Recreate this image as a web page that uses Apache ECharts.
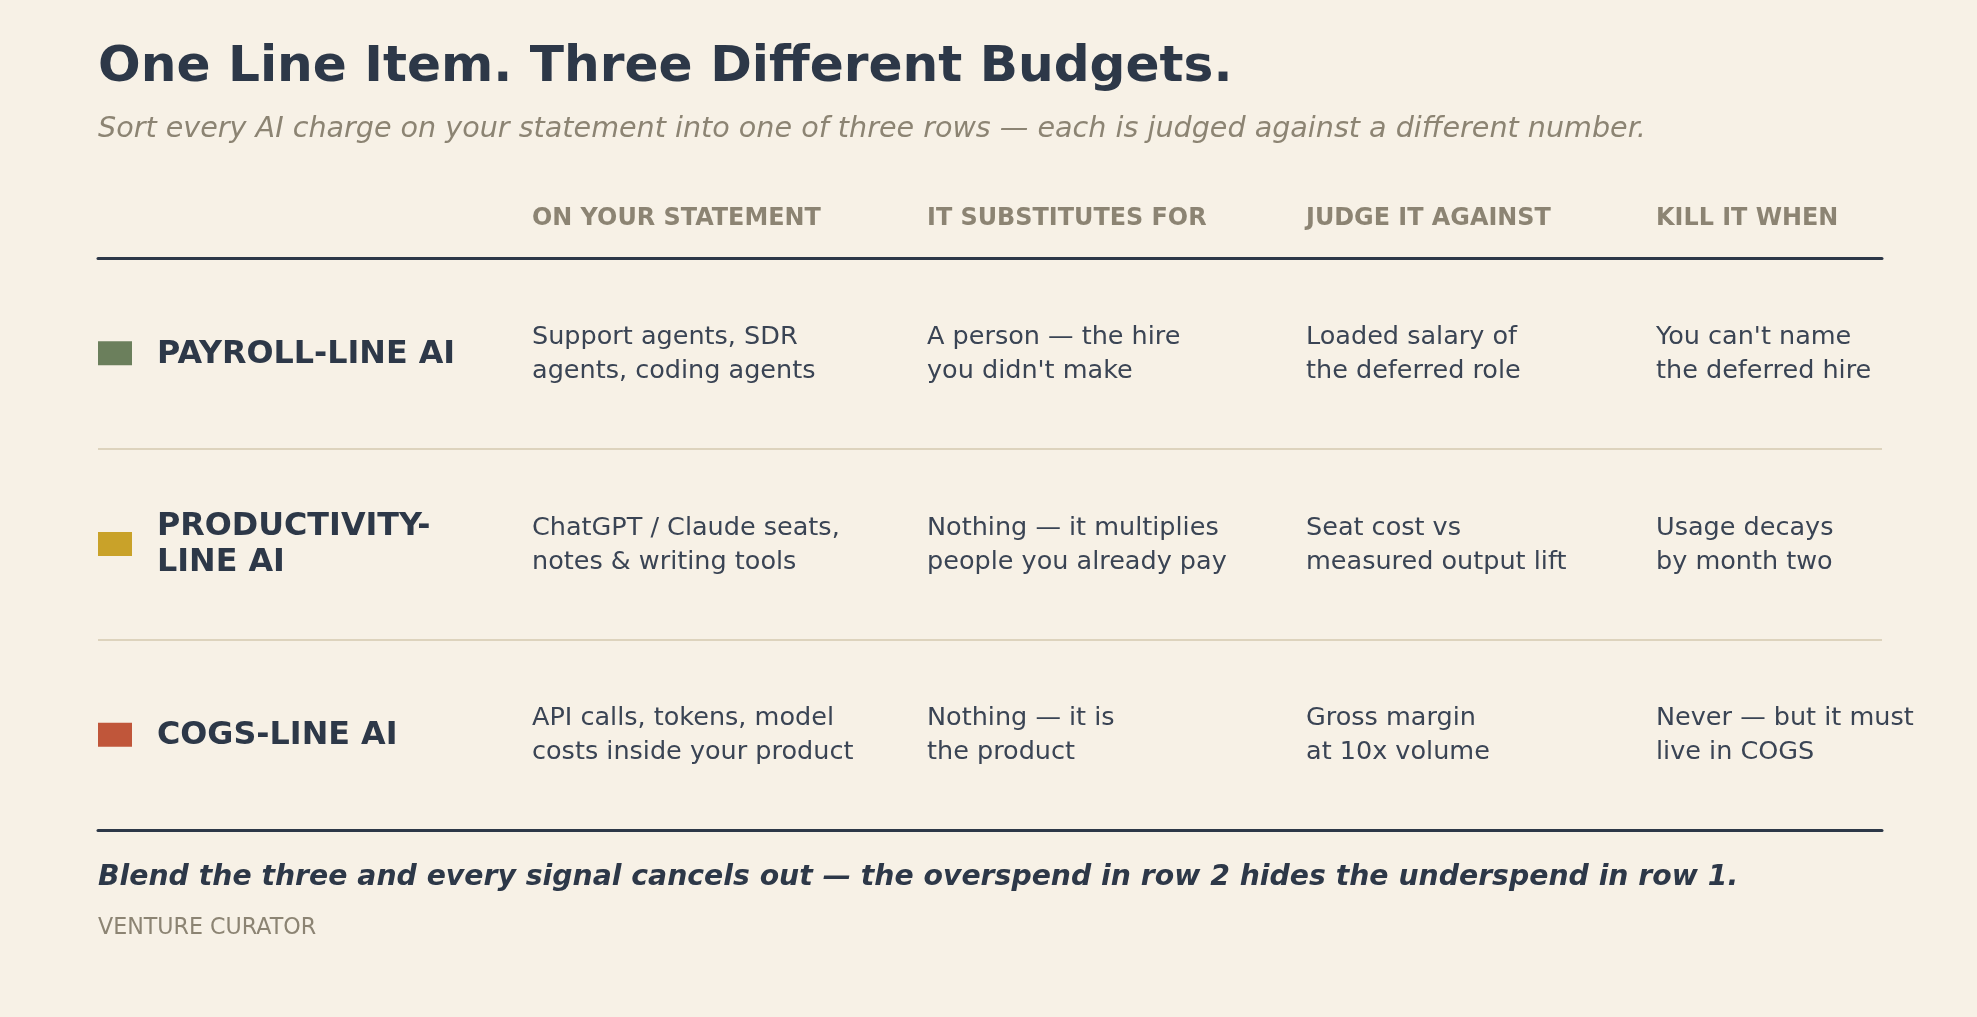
<!DOCTYPE html>
<html>
<head>
<meta charset="utf-8">
<script src="https://cdn.jsdelivr.net/npm/echarts@6/dist/echarts.min.js"></script>
<style>
  html, body { margin: 0; padding: 0; background: #f7f1e6; }
  #chart { width: 1977px; height: 1017px; }
</style>
</head>
<body>
<div id="chart"></div>
<script>
// table content
const titleText = 'One Line Item. Three Different Budgets.'
const subtitleText = 'Sort every AI charge on your statement into one of three rows — each is judged against a different number.'
const footerText = 'Blend the three and every signal cancels out — the overspend in row 2 hides the underspend in row 1.'
const sourceText = 'VENTURE CURATOR'

const headers = ['ON YOUR STATEMENT', 'IT SUBSTITUTES FOR', 'JUDGE IT AGAINST', 'KILL IT WHEN']
const rowLabels = ['PAYROLL-LINE AI', 'PRODUCTIVITY-\nLINE AI', 'COGS-LINE AI']
const onStatement = ['Support agents, SDR\nagents, coding agents', 'ChatGPT / Claude seats,\nnotes & writing tools', 'API calls, tokens, model\ncosts inside your product']
const substitutesFor = ['A person — the hire\nyou didn\'t make', 'Nothing — it multiplies\npeople you already pay', 'Nothing — it is\nthe product']
const judgeAgainst = ['Loaded salary of\nthe deferred role', 'Seat cost vs\nmeasured output lift', 'Gross margin\nat 10x volume']
const killWhen = ['You can\'t name\nthe deferred hire', 'Usage decays\nby month two', 'Never — but it must\nlive in COGS']

// layout + styling
const rowColors = ['#6b7f5c', '#c9a229', '#c0563a']
const colStart = [434, 829, 1208, 1558]
const tableWidth = 1784
const font = '"DejaVu Sans", sans-serif'
const dark = '#2d3848'
const muted = '#8c8473'
const bodyColor = '#3a4454'
const rule = '#ddd3bd'

const columns = [onStatement, substitutesFor, judgeAgainst, killWhen]

let chart = echarts.init(document.getElementById('chart'))

chart.setOption({
  backgroundColor: '#f7f1e6',
  animation: false,
  title: [
    { text: titleText, left: 98, top: 43, padding: 0,
      textStyle: { fontFamily: font, fontSize: 50.2, fontWeight: 'bold', color: dark } },
    { text: subtitleText, left: 98, top: 115, padding: 0,
      textStyle: { fontFamily: font, fontSize: 28.6, fontStyle: 'italic', fontWeight: 'normal', color: muted } },
    { text: footerText, left: 98, top: 864, padding: 0,
      textStyle: { fontFamily: font, fontSize: 28.3, fontStyle: 'italic', fontWeight: 'bold', color: dark } },
    { text: sourceText, left: 98, top: 917, padding: 0,
      textStyle: { fontFamily: font, fontSize: 22.2, fontWeight: 'normal', color: muted } }
  ],
  grid: { left: 98, right: 95, top: 258.5, bottom: 186.5 },
  xAxis: [
    { type: 'value', min: 0, max: tableWidth, position: 'bottom',
      axisLine: { show: true, onZero: false, lineStyle: { color: dark, width: 3 } },
      axisTick: { show: false }, axisLabel: { show: false }, splitLine: { show: false } },
    { type: 'value', min: 0, max: tableWidth, position: 'top',
      axisLine: { show: true, onZero: false, lineStyle: { color: dark, width: 3 } },
      axisTick: { show: false }, axisLabel: { show: false }, splitLine: { show: false } }
  ],
  yAxis: {
    type: 'category',
    data: rowLabels,
    inverse: true,
    axisLine: { show: false },
    axisTick: { show: false },
    axisLabel: { show: false },
    splitLine: { show: true, lineStyle: { color: [dark, rule, rule, dark], width: 2.2 } }
  },
  series: [
    {
      // column headers sit above the top rule
      type: 'custom',
      silent: true,
      data: [[0, 0]],
      encode: { x: 0, y: 1 },
      renderItem: function (params, api) {
        let top = params.coordSys.y
        return {
          type: 'group',
          children: headers.map((h, k) => ({
            type: 'text',
            x: api.coord([colStart[k], 0])[0],
            y: top - 40,
            style: {
              text: h, fill: muted, fontFamily: font, fontSize: 23.9, fontWeight: 'bold',
              align: 'left', verticalAlign: 'middle'
            }
          }))
        }
      }
    },
    {
      type: 'custom',
      silent: true,
      data: rowLabels.map((_, i) => [0, i]),
      encode: { x: 0, y: 1 },
      renderItem: function (params, api) {
        let i = params.dataIndex
        let pt = api.coord([0, api.value(1)])
        let x0 = pt[0], yc = pt[1]
        let children = [
          { type: 'rect', shape: { x: x0, y: yc - 12.5, width: 34, height: 24 },
            style: { fill: rowColors[i] } },
          { type: 'text', x: x0 + 59, y: yc + 0.5,
            style: { text: rowLabels[i], fill: dark, fontFamily: font, fontSize: 31.8, fontWeight: 'bold',
              lineHeight: 36, align: 'left', verticalAlign: 'middle' } }
        ]
        columns.forEach((col, k) => {
          children.push({
            type: 'text',
            x: api.coord([colStart[k], i])[0],
            y: yc + 0.5,
            style: { text: col[i], fill: bodyColor, fontFamily: font, fontSize: 25.5,
              lineHeight: 34, align: 'left', verticalAlign: 'middle' }
          })
        })
        return { type: 'group', children: children }
      }
    }
  ]
})
</script>
</body>
</html>
